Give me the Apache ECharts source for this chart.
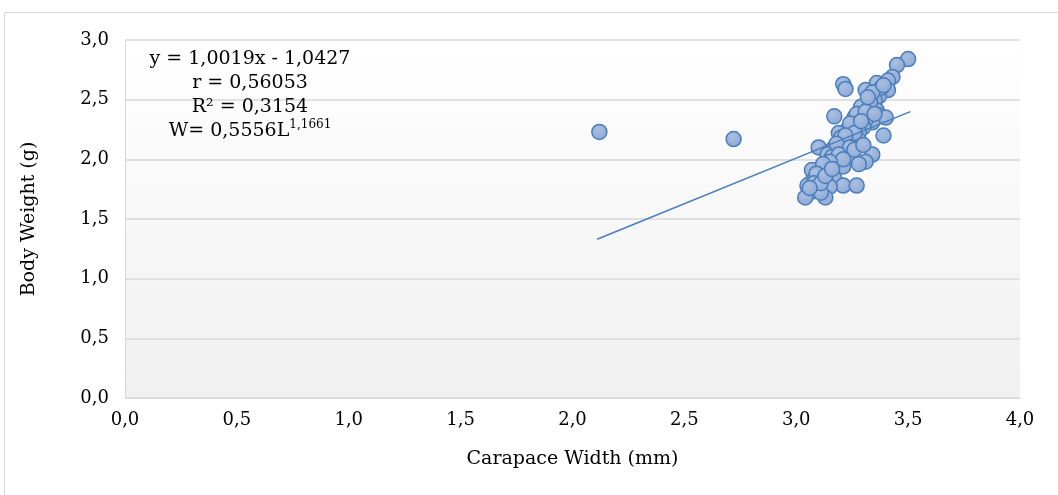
<!DOCTYPE html>
<html>
<head>
<meta charset="utf-8">
<script src="https://cdn.jsdelivr.net/npm/echarts@6/dist/echarts.min.js"></script>
<style>html,body{margin:0;padding:0;background:#fff;}#c{width:1058px;height:495px;}</style>
</head>
<body>
<div id="c"></div>
<script>
// Carapace width (mm) values
var widths = [2.12, 2.72, 3.50, 3.45, 3.43, 3.41, 3.36, 3.41, 3.21, 3.22, 3.31, 3.37, 3.35, 3.33, 3.32, 3.36,
  3.37, 3.30, 3.17, 3.26, 3.40, 3.34, 3.31, 3.28, 3.30, 3.25, 3.23, 3.28, 3.19, 3.39, 3.25, 3.22, 3.28,
  3.10, 3.19, 3.23, 3.16, 3.21, 3.25, 3.18, 3.14, 3.34, 3.20, 3.17, 3.23, 3.18, 3.31, 3.28, 3.21, 3.15,
  3.07, 3.12, 3.14, 3.11, 3.17, 3.09, 3.13, 3.07, 3.13, 3.21, 3.27, 3.05, 3.15, 3.10, 3.07, 3.04, 3.13, 3.11,
  3.38, 3.34, 3.39, 3.33, 3.29, 3.27, 3.31, 3.24, 3.26, 3.29, 3.35, 3.32, 3.20, 3.22, 3.18, 3.16, 3.24,
  3.19, 3.21, 3.15, 3.12, 3.09, 3.08, 3.11, 3.13, 3.16, 3.06, 3.26, 3.30];
// Body weight (g) values
var weights = [2.23, 2.17, 2.84, 2.79, 2.69, 2.66, 2.64, 2.58, 2.63, 2.59, 2.58, 2.53, 2.50, 2.46, 2.41, 2.41,
  2.37, 2.36, 2.36, 2.35, 2.35, 2.31, 2.33, 2.31, 2.27, 2.27, 2.25, 2.23, 2.22, 2.20, 2.18, 2.16, 2.16,
  2.10, 2.10, 2.12, 2.08, 2.08, 2.06, 2.06, 2.04, 2.04, 2.02, 2.01, 2.01, 1.98, 1.98, 1.96, 1.94, 1.95,
  1.91, 1.91, 1.89, 1.86, 1.84, 1.83, 1.83, 1.81, 1.79, 1.78, 1.78, 1.78, 1.77, 1.74, 1.73, 1.68, 1.68, 1.72,
  2.60, 2.56, 2.62, 2.48, 2.44, 2.38, 2.40, 2.30, 2.22, 2.32, 2.38, 2.52, 2.18, 2.20, 2.13, 2.02, 2.10,
  2.04, 2.00, 1.98, 1.96, 1.88, 1.80, 1.80, 1.86, 1.92, 1.76, 2.08, 2.12];
// Linear trendline endpoints as drawn
var trendX = [2.11, 3.51];
var trendY = [1.33, 2.40];
var xName = 'Carapace Width (mm)';
var yName = 'Body Weight (g)';
var eqLines = ['y = 1,0019x - 1,0427', 'r = 0,56053', 'R² = 0,3154'];
var powerBase = 'W= 0,5556L';
var powerExp = '1,1661';

var pts = widths.map(function (w, i) { return [w, weights[i]]; });
var trend = trendX.map(function (x, i) { return [x, trendY[i]]; });
var fmt = function (v) { return v.toFixed(1).replace('.', ','); };
var FONT = 'DejaVu Serif';

var chart = echarts.init(document.getElementById('c'));
chart.setOption({
  animation: false,
  backgroundColor: '#ffffff',
  textStyle: { fontFamily: FONT },
  grid: {
    left: 125, right: 38, top: 40, bottom: 97,
    show: true, borderWidth: 0,
    backgroundColor: new echarts.graphic.LinearGradient(0, 0, 0, 1, [
      { offset: 0, color: '#ffffff' }, { offset: 1, color: '#f0f0f0' }
    ])
  },
  graphic: [{
    type: 'rect', silent: true, z: -10,
    shape: { x: 4.5, y: 12.5, width: 1100, height: 600 },
    style: { fill: 'none', stroke: '#d9d9d9', lineWidth: 1 }
  }, {
    type: 'text', z: 100, x: 250, y: 47,
    style: {
      text: eqLines.join('\n') + '\n' + '{b|' + powerBase + '}{s|' + powerExp + '}',
      font: '19px "DejaVu Serif"', fill: '#000', align: 'center', verticalAlign: 'top', lineHeight: 24,
      rich: {
        b: { fontSize: 19, fontFamily: FONT, lineHeight: 24 },
        s: { fontSize: 12, fontFamily: FONT, verticalAlign: 'top', lineHeight: 24, padding: [0, 0, 8, 0] }
      }
    }
  }],
  xAxis: {
    type: 'value', min: 0, max: 4, interval: 0.5,
    name: xName, nameLocation: 'middle', nameGap: 52,
    nameTextStyle: { fontFamily: FONT, fontSize: 19, color: '#000' },
    axisLine: { show: true, lineStyle: { color: '#d9d9d9' } },
    axisTick: { show: false },
    axisLabel: { fontFamily: FONT, fontSize: 18, color: '#000', margin: 13, formatter: fmt },
    splitLine: { show: false }
  },
  yAxis: {
    type: 'value', min: 0, max: 3, interval: 0.5,
    name: yName, nameLocation: 'middle', nameGap: 86,
    nameTextStyle: { fontFamily: FONT, fontSize: 19, color: '#000' },
    axisLine: { show: true, lineStyle: { color: '#d9d9d9' } },
    axisTick: { show: false },
    axisLabel: { fontFamily: FONT, fontSize: 18, color: '#000', margin: 16, formatter: fmt },
    splitLine: { show: true, lineStyle: { color: '#d9d9d9', width: 1.5 } }
  },
  series: [{
    type: 'line', data: trend, showSymbol: false, symbol: 'none',
    lineStyle: { color: '#4a7ebb', width: 1.5 }, z: 3
  }, {
    type: 'scatter', data: pts, symbol: 'circle', symbolSize: 15,
    itemStyle: {
      color: new echarts.graphic.RadialGradient(0.4, 0.35, 0.7, [
        { offset: 0, color: '#aabfe0' }, { offset: 1, color: '#8ca8d6' }
      ]),
      borderColor: '#4a7ebb', borderWidth: 1.5, opacity: 1
    },
    z: 2
  }]
});
</script>
</body>
</html>
